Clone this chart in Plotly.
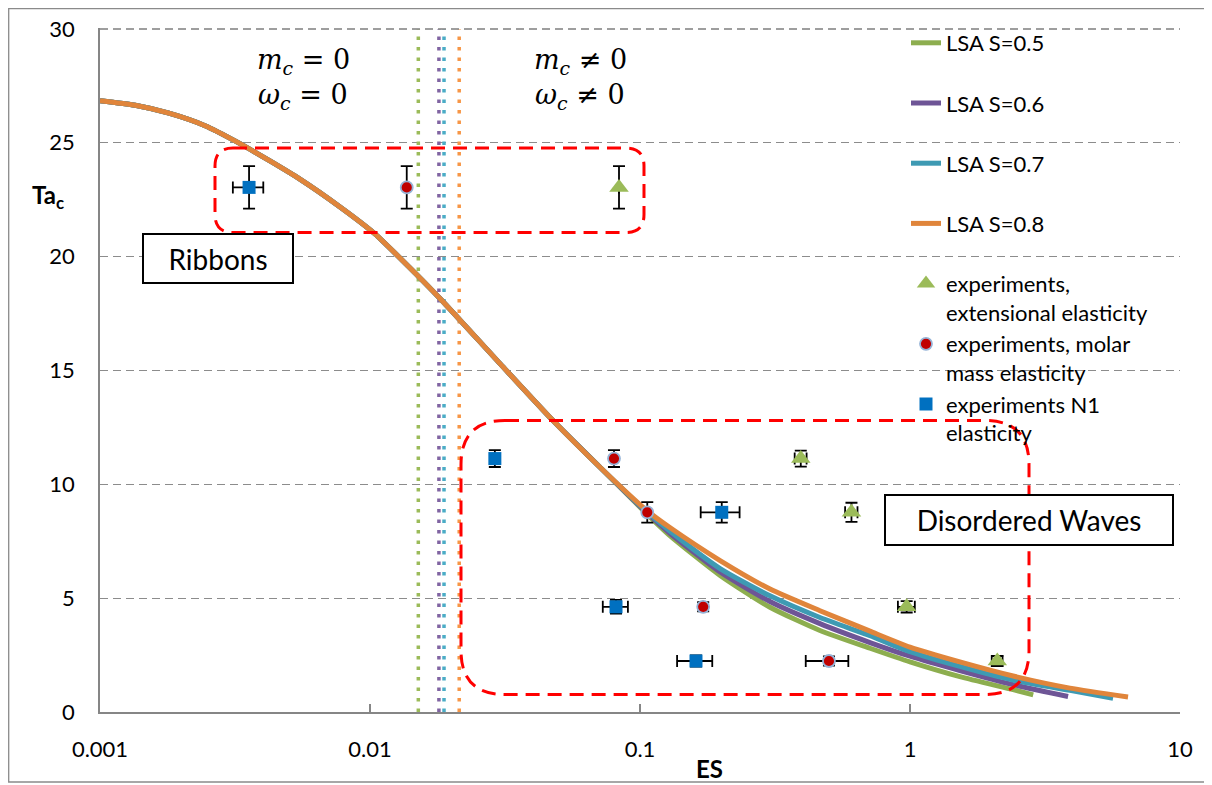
import plotly.graph_objects as go

# ---------------- data ----------------
# LSA curves: shared high-Ta part (the four curves coincide there)
es_head = [0.001, 0.00135, 0.0018, 0.00245, 0.0032, 0.00426, 0.0055, 0.0077, 0.0103,
           0.0138, 0.0182, 0.0303, 0.0476, 0.0711]
ta_head = [26.85, 26.65, 26.3, 25.75, 25.05, 24.2, 23.4, 22.2, 21.05,
           19.6, 18.15, 15.3, 12.8, 10.75]

es_s05 = [0.106, 0.129, 0.198, 0.303, 0.464, 0.711, 1.0, 1.53, 2.41, 2.86]
ta_s05 = [8.7, 7.75, 6.0, 4.6, 3.58, 2.8, 2.2, 1.55, 0.98, 0.75]
es_s06 = [0.106, 0.129, 0.198, 0.303, 0.464, 0.711, 1.0, 1.53, 2.41, 3.85]
ta_s06 = [8.75, 7.85, 6.15, 4.85, 3.88, 3.05, 2.45, 1.82, 1.2, 0.68]
es_s07 = [0.106, 0.129, 0.198, 0.303, 0.464, 0.711, 1.0, 1.53, 2.41, 3.91, 5.65]
ta_s07 = [8.8, 7.95, 6.3, 5.1, 4.15, 3.35, 2.65, 2.0, 1.4, 0.95, 0.6]
es_s08 = [0.106, 0.129, 0.198, 0.303, 0.464, 0.711, 1.0, 1.53, 2.41, 3.91, 6.42]
ta_s08 = [8.85, 8.1, 6.65, 5.4, 4.45, 3.55, 2.85, 2.2, 1.58, 1.05, 0.66]

lsa_names = ["LSA S=0.5", "LSA S=0.6", "LSA S=0.7", "LSA S=0.8"]
lsa_colors = ["#8DAE4F", "#6E5596", "#3E9AB3", "#E0853B"]
crit_colors = ["#9BBB59", "#8064A2", "#4BACC6", "#F79646"]
# critical ES (dotted vertical lines) for S = 0.5, 0.6, 0.7, 0.8
es_crit = [0.0151, 0.0180, 0.0188, 0.0214]

# experiments (same Ta_c rows for every series)
ta_rows = [23.04, 11.13, 8.77, 4.62, 2.24]

es_ext = [0.0836, 0.394, 0.607, 0.972, 2.105]
ext_xerr = [0, 0.02, 0.032, 0.07, 0.097]
ext_yerr = [0.93, 0.35, 0.42, 0.25, 0.22]

es_mol = [0.01368, 0.0801, 0.1064, 0.1714, 0.501]
mol_xerr = [0, 0, 0, 0, 0.09]
mol_yerr = [0.93, 0.37, 0.45, 0.2, 0.2]

es_n1 = [0.003565, 0.029, 0.2008, 0.0815, 0.1612]
n1_xerr = [0.00046, 0, 0.033, 0.0087, 0.024]
n1_yerr = [0.93, 0.37, 0.45, 0.3, 0.25]

x_ticks = [0.001, 0.01, 0.1, 1, 10]
x_ticktext = ["0.001", "0.01", "0.1", "1", "10"]
y_ticks = [0, 5, 10, 15, 20, 25, 30]

# ---------------- layout helpers (reference pixel -> paper) ----------------
OFF = 8                      # page body margin
W, H = 1212 - OFF, 785 - OFF
L, R, T, B = 100, 1180, 28, 712   # plot area in reference pixels


def px(x):
    return (x - L) / (R - L)


def py(y):
    return (B - y) / (B - T)


def rrect(x0, y0, x1, y1, r):
    pts = [("M", [(x0 + r, y0)]), ("L", [(x1 - r, y0)]), ("Q", [(x1, y0), (x1, y0 + r)]),
           ("L", [(x1, y1 - r)]), ("Q", [(x1, y1), (x1 - r, y1)]), ("L", [(x0 + r, y1)]),
           ("Q", [(x0, y1), (x0, y1 - r)]), ("L", [(x0, y0 + r)]), ("Q", [(x0, y0), (x0 + r, y0)])]
    s = ""
    for cmd, ps in pts:
        s += cmd + " " + " ".join(f"{px(a):.5f},{py(b):.5f}" for a, b in ps) + " "
    return s + "Z"


FONT = "Lato"
GRID = "#8C8C8C"
fig = go.Figure()

# dotted critical lines
for v, c in zip(es_crit, crit_colors):
    fig.add_trace(go.Scatter(x=[v, v], y=[0, 30], mode="lines", showlegend=False, hoverinfo="skip",
                             line=dict(color=c, width=3.5, dash="3.5px,7px")))

# LSA curves
tails = [(es_s05, ta_s05), (es_s06, ta_s06), (es_s07, ta_s07), (es_s08, ta_s08)]
for name, col, (ex, ty) in zip(lsa_names, lsa_colors, tails):
    fig.add_trace(go.Scatter(x=es_head + ex, y=ta_head + ty, mode="lines", name=name + "<br>\u00a0",
                             line=dict(color=col, width=5, shape="spline", smoothing=0.6)))

err_style = dict(type="data", color="black", thickness=1.8, width=6)

fig.add_trace(go.Scatter(
    x=es_ext, y=ta_rows, mode="markers", name="experiments,<br>extensional elasticity",
    marker=dict(symbol="triangle-up", size=17, color="#9BBB59"),
    error_x=dict(array=ext_xerr, **err_style), error_y=dict(array=ext_yerr, **err_style)))
fig.add_trace(go.Scatter(
    x=es_mol, y=ta_rows, mode="markers", name="experiments, molar<br>mass elasticity",
    marker=dict(symbol="circle", size=12, color="#C00000", line=dict(color="#95B3D7", width=1.8)),
    error_x=dict(array=mol_xerr, **err_style), error_y=dict(array=mol_yerr, **err_style)))
fig.add_trace(go.Scatter(
    x=es_n1, y=ta_rows, mode="markers", name="experiments N1<br>elasticity",
    marker=dict(symbol="square", size=13, color="#0070C0"),
    error_x=dict(array=n1_xerr, **err_style), error_y=dict(array=n1_yerr, **err_style)))

shapes = [
    # outer chart frame
    dict(type="rect", xref="paper", yref="paper", x0=px(8.7), x1=px(1206), y0=py(8.7), y1=py(782),
         line=dict(color="#8A8A8A", width=1.3), layer="below"),
    # top gridline (at the upper edge of the axis range)
    dict(type="line", xref="paper", yref="paper", x0=0, x1=1, y0=py(29), y1=py(29),
         line=dict(color="#7F7F7F", width=1.6, dash="8px,5px"), layer="above"),
    # regime boxes
    dict(type="path", xref="paper", yref="paper", path=rrect(215, 148, 644, 232.5, 18),
         line=dict(color="#FF0000", width=3, dash="14px,8px"), layer="above"),
    dict(type="path", xref="paper", yref="paper", path=rrect(461, 420.5, 1029, 694.5, 44),
         line=dict(color="#FF0000", width=3, dash="14px,8px"), layer="above"),
]

math_font = dict(family="DejaVu Serif", size=27, color="black")


def ann(x, y, text, **kw):
    d = dict(x=px(x), y=py(y), xref="paper", yref="paper", showarrow=False, text=text,
             xanchor="center", yanchor="middle")
    d.update(kw)
    return d


box_font = dict(family=FONT, size=28, color="black")
annotations = [
    ann(303, 62, "<i>m</i><sub><i>c</i></sub> = 0", font=math_font),
    ann(303, 97, "<i>ω</i><sub><i>c</i></sub> = 0", font=math_font),
    ann(580, 62, "<i>m</i><sub><i>c</i></sub> ≠ 0", font=math_font),
    ann(580, 97, "<i>ω</i><sub><i>c</i></sub> ≠ 0", font=math_font),
    ann(217.5, 258, "Ribbons", font=box_font, width=148, height=47,
        bordercolor="black", borderwidth=2, borderpad=0, bgcolor="white"),
    ann(1028.5, 519.5, "Disordered Waves", font=box_font,
        width=286, height=48, bordercolor="black", borderwidth=2, borderpad=0, bgcolor="white"),
    ann(48, 196, "<b>Ta</b><b><sub>c</sub></b>", font=dict(family=FONT, size=24, color="black")),
    ann(709, 768, "<b>ES</b>", font=dict(family=FONT, size=24, color="black")),
]

fig.update_layout(
    width=W, height=H,
    margin=dict(l=L - OFF, r=W - (R - OFF), t=T - OFF, b=H - (B - OFF), pad=0, autoexpand=False),
    paper_bgcolor="white", plot_bgcolor="white",
    font=dict(family=FONT, size=22, color="black"),
    showlegend=True,
    legend=dict(x=px(906), y=py(22), xanchor="left", yanchor="top", bgcolor="rgba(0,0,0,0)",
                font=dict(family=FONT, size=22, color="black"), valign="top",
                itemwidth=30, tracegroupgap=0, maxheight=700),
    xaxis=dict(type="log", range=[-3, 1], showgrid=False, zeroline=False, showline=True,
               linecolor="#868686", linewidth=1.6, ticks="inside", ticklen=8, tickcolor="#868686",
               tickwidth=1.5, tickvals=x_ticks, ticktext=x_ticktext, ticklabelstandoff=17),
    yaxis=dict(range=[0, 30.04], tickvals=y_ticks, showgrid=True, gridcolor=GRID,
               gridwidth=1.3, griddash="8px,5px", zeroline=False, showline=True,
               linecolor="#868686", linewidth=1.6, ticks="", ticklabelstandoff=19),
    shapes=shapes, annotations=annotations,
)

fig.write_html("out.html")
